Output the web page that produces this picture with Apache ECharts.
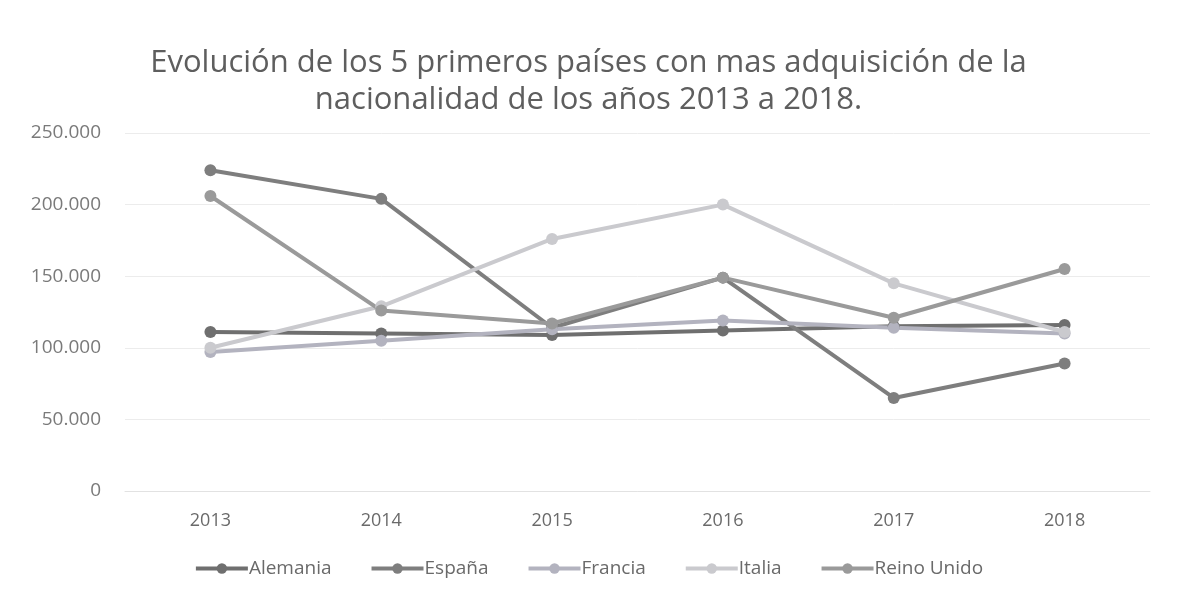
<!DOCTYPE html>
<html>
<head>
<meta charset="utf-8">
<script src="https://cdn.jsdelivr.net/npm/echarts@6/dist/echarts.min.js"></script>
<style>
  html, body { margin: 0; padding: 0; background: #ffffff; }
  #chart { width: 1177px; height: 597px; }
</style>
</head>
<body>
<div id="chart"></div>
<script>
// Años y adquisiciones de nacionalidad por país
const years = ['2013', '2014', '2015', '2016', '2017', '2018'];
const alemania = [111000, 110000, 109000, 112000, 115000, 116000];
const espana = [224000, 204000, 114000, 149000, 65000, 89000];
const francia = [97000, 105000, 113000, 119000, 114000, 110000];
const italia = [100000, 129000, 176000, 200000, 145000, 111000];
const reinoUnido = [206000, 126000, 117000, 149000, 121000, 155000];
const yTicks = [0, 50000, 100000, 150000, 200000, 250000];

const seriesDefs = [
  { name: 'Alemania', data: alemania, color: '#6f6f6f' },
  { name: 'España', data: espana, color: '#7e7e7e' },
  { name: 'Francia', data: francia, color: '#b3b3bf' },
  { name: 'Italia', data: italia, color: '#cacace' },
  { name: 'Reino Unido', data: reinoUnido, color: '#9a9a9a' }
];

// Separador de miles con punto
const fmt = v => String(v).replace(/\B(?=(\d{3})+(?!\d))/g, '.');

const chart = echarts.init(document.getElementById('chart'));
chart.setOption({
  animation: false,
  backgroundColor: '#ffffff',
  textStyle: { fontFamily: 'Open Sans' },
  title: {
    text: 'Evolución de los 5 primeros países con mas adquisición de la\nnacionalidad de los años 2013 a 2018.',
    left: 'center',
    top: 40,
    textStyle: {
      fontFamily: 'Open Sans',
      fontSize: 31,
      fontWeight: 'normal',
      color: '#5e5e5e',
      lineHeight: 37
    }
  },
  legend: {
    bottom: 14,
    left: 'center',
    itemWidth: 52,
    itemHeight: 13,
    itemGap: 38,
    lineStyle: { width: 4 },
    textStyle: { fontFamily: 'Open Sans', fontSize: 19, color: '#6a6a6a', padding: [0, 0, 0, -4] },
    data: seriesDefs.map(s => s.name)
  },
  grid: { left: 125, right: 27, top: 133, bottom: 106, containLabel: false },
  xAxis: {
    type: 'category',
    data: years,
    boundaryGap: true,
    axisLine: { lineStyle: { color: '#e2e2e2', width: 1 } },
    axisTick: { show: false },
    axisLabel: { color: '#6a6a6a', fontSize: 18, margin: 21, fontFamily: 'Open Sans' }
  },
  yAxis: {
    type: 'value',
    min: yTicks[0],
    max: yTicks[yTicks.length - 1],
    interval: yTicks[1] - yTicks[0],
    axisLine: { show: false },
    axisTick: { show: false },
    splitLine: { lineStyle: { color: '#ececec', width: 1 } },
    axisLabel: { color: '#7a7a7a', fontSize: 19, margin: 24, formatter: fmt, fontFamily: 'Open Sans' }
  },
  series: seriesDefs.map(s => ({
    name: s.name,
    type: 'line',
    data: s.data,
    symbol: 'circle',
    symbolSize: 12,
    lineStyle: { color: s.color, width: 4 },
    itemStyle: { color: s.color },
    emphasis: { disabled: true }
  }))
});
</script>
</body>
</html>
